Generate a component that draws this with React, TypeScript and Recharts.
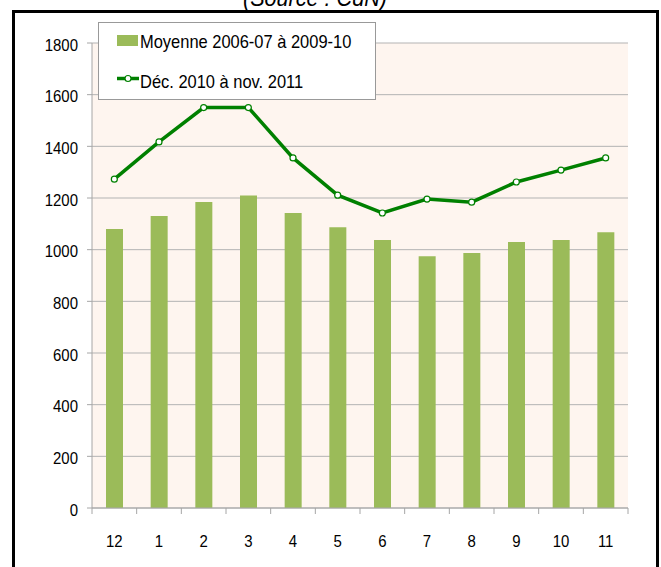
import { ComposedChart, Bar, Line, XAxis, YAxis, CartesianGrid } from "recharts";

const months = ["12", "1", "2", "3", "4", "5", "6", "7", "8", "9", "10", "11"];
const moyenne = [1080, 1130, 1185, 1210, 1142, 1087, 1037, 975, 987, 1030, 1037, 1067];
const saison = [1273, 1417, 1550, 1550, 1355, 1211, 1142, 1196, 1184, 1262, 1308, 1355];
const yTicks = [0, 200, 400, 600, 800, 1000, 1200, 1400, 1600, 1800];

const data = months.map((m, i) => ({ m, moyenne: moyenne[i], saison: saison[i] }));

const FONT = "'Liberation Sans', Arial, sans-serif";
const AXIS = "#a6a6a6";
const BAR = "#9BBB59";
const LINE = "#008000";

const YTick = ({ x, y, payload }: any) => (
  <text
    transform={`translate(${x},${y + 7.5}) scale(0.88,1)`}
    textAnchor="end"
    fontFamily={FONT}
    fontSize={17}
    fill="#000"
  >
    {payload.value}
  </text>
);

const XTick = ({ x, y, payload, index }: any) => {
  const off = payload.offset ?? 22.33;
  return (
    <g>
      <line x1={x - off} x2={x - off} y1={y} y2={y + 6} stroke={AXIS} />
      {index === months.length - 1 && (
        <line x1={x + off} x2={x + off} y1={y} y2={y + 6} stroke={AXIS} />
      )}
      <text
        transform={`translate(${x},${y + 38.7}) scale(0.88,1)`}
        textAnchor="middle"
        fontFamily={FONT}
        fontSize={17}
        fill="#000"
      >
        {payload.value}
      </text>
    </g>
  );
};

export default function App() {
  return (
    <div style={{ position: "absolute", left: 0, top: 0, width: 661, height: 567, overflow: "hidden", background: "#fff" }}>
      <div
        style={{
          position: "absolute",
          left: 12,
          top: 10,
          width: 647,
          height: 620,
          boxSizing: "border-box",
          border: "3px solid #000",
        }}
      />
      <div style={{ position: "absolute", left: 0, top: 0 }}>
        <ComposedChart width={661} height={567} data={data} margin={{ top: 43, right: 33, bottom: 0, left: 0 }} barCategoryGap={0}>
          <CartesianGrid vertical={false} stroke="#b3b3b3" fill="#FEF5EF" fillOpacity={1} />
          <XAxis
            dataKey="m"
            height={59}
            tickLine={false}
            tickSize={0}
            tickMargin={0}
            axisLine={{ stroke: AXIS }}
            tick={<XTick />}
            interval={0}
          />
          <YAxis
            width={92}
            domain={[0, 1800]}
            ticks={yTicks}
            interval={0}
            tickSize={5}
            tickMargin={9}
            tickLine={{ stroke: AXIS }}
            axisLine={{ stroke: AXIS }}
            tick={<YTick />}
          />
          <YAxis yAxisId="r" orientation="right" width={0} tick={false} tickLine={false} axisLine={{ stroke: AXIS }} />
          <Bar dataKey="moyenne" fill={BAR} barSize={17} isAnimationActive={false} />
          <Line
            type="linear"
            dataKey="saison"
            stroke={LINE}
            strokeWidth={3.5}
            dot={{ r: 3, fill: "#fff", stroke: LINE, strokeWidth: 1.2 }}
            isAnimationActive={false}
          />
        </ComposedChart>
      </div>
      <svg width={661} height={567} style={{ position: "absolute", left: 0, top: 0, pointerEvents: "none" }}>
        {/* title, cut at the top in the source */}
        <text
          transform="translate(315,5.5) scale(0.9,1)"
          textAnchor="middle"
          fontFamily={FONT}
          fontStyle="italic"
          fontSize={24}
          fill="#000"
        >
          (Source : CdN)
        </text>
        {/* legend box */}
        <rect x={98.5} y={22.5} width={277} height={77} fill="#fff" stroke="#999" />
        <rect x={117} y={35} width={21} height={11} fill={BAR} />
        <text transform="translate(140,47.7) scale(0.89,1)" fontFamily={FONT} fontSize={18.5} fill="#000">
          Moyenne 2006-07 à 2009-10
        </text>
        <line x1={117} x2={139} y1={78.5} y2={78.5} stroke={LINE} strokeWidth={3.5} />
        <circle cx={128} cy={78.5} r={3} fill="#fff" stroke={LINE} strokeWidth={1.2} />
        <text transform="translate(140,87.5) scale(0.89,1)" fontFamily={FONT} fontSize={18.5} fill="#000">
          Déc. 2010 à nov. 2011
        </text>
      </svg>
    </div>
  );
}
